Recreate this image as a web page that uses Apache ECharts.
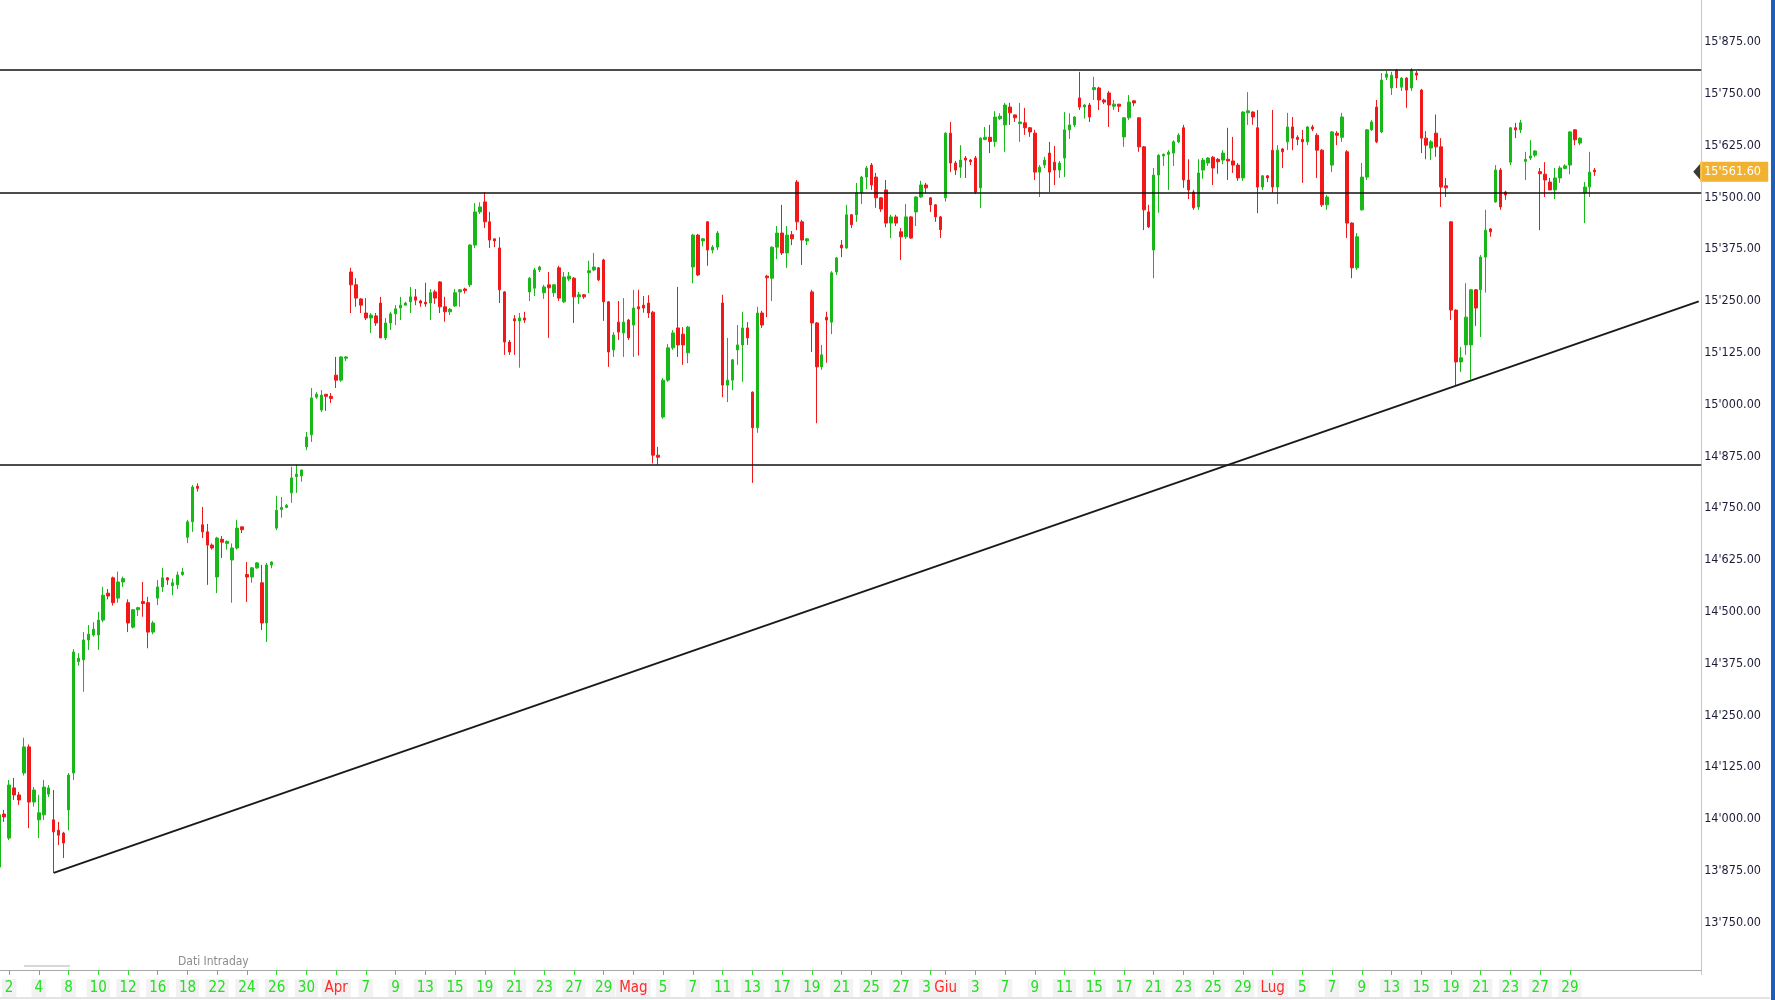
<!DOCTYPE html>
<html>
<head>
<meta charset="utf-8">
<script src="https://cdn.jsdelivr.net/npm/echarts@6/dist/echarts.min.js"></script>
<style>
html,body{margin:0;padding:0;background:#fff;}
#chart{width:1775px;height:1000px;}
</style>
</head>
<body>
<div id="chart"></div>
<script>
// ---- DATA ----
const tradingDays = [
 '03-01','03-02','03-03','03-04','03-05','03-08','03-09','03-10','03-11','03-12','03-15','03-16','03-17','03-18','03-19','03-22','03-23','03-24','03-25','03-26','03-29','03-30','03-31',
 '04-01','04-06','04-07','04-08','04-09','04-12','04-13','04-14','04-15','04-16','04-19','04-20','04-21','04-22','04-23','04-26','04-27','04-28','04-29','04-30',
 '05-03','05-04','05-05','05-06','05-07','05-10','05-11','05-12','05-13','05-14','05-17','05-18','05-19','05-20','05-21','05-24','05-25','05-26','05-27','05-28','05-31',
 '06-01','06-02','06-03','06-04','06-07','06-08','06-09','06-10','06-11','06-14','06-15','06-16','06-17','06-18','06-21','06-22','06-23','06-24','06-25','06-28','06-29','06-30',
 '07-01','07-02','07-05','07-06','07-07','07-08','07-09','07-12','07-13','07-14','07-15','07-16','07-19','07-20','07-21','07-22','07-23','07-26','07-27','07-28','07-29','07-30'
];
const sessionSlots = ['09:00', '12:00', '15:00'];
const futureSlots = 21;

// [open, close, low, high] per 3-hour bar
const candles = [
 [13884,14010,13877,14022],[14012,14005,13993,14022],
 [13954,14082,13949,14094],[14075,14058,14046,14099],[14058,14046,14034,14065],
 [14111,14174,14105,14196],[14174,14041,13978,14180],[14041,14070,14030,14077],
 [13998,14015,13954,14058],[14010,14077,13998,14094],[14060,14075,14053,14082],
 [13998,13969,13870,14070],[13973,13961,13937,13993],[13966,13942,13906,13969],
 [14022,14106,13973,14111],[14111,14403,14094,14410],[14380,14388,14370,14400],
 [14384,14432,14307,14451],[14432,14446,14408,14468],[14444,14458,14440,14475],
 [14444,14480,14408,14500],[14480,14540,14475,14560],[14545,14538,14530,14555],
 [14582,14522,14515,14585],[14533,14572,14522,14597],[14572,14580,14560,14585],
 [14522,14473,14451,14530],[14463,14505,14460,14507],[14505,14510,14490,14512],
 [14525,14520,14488,14572],[14522,14451,14412,14536],[14451,14473,14446,14478],
 [14533,14560,14516,14577],[14560,14582,14548,14606],[14582,14577,14565,14584],
 [14563,14570,14540,14580],[14565,14589,14555,14597],[14590,14596,14587,14606],
 [14680,14717,14666,14722],[14717,14801,14693,14806],[14803,14798,14790,14810],
 [14710,14693,14678,14753],[14693,14661,14565,14712],[14661,14654,14650,14665],
 [14584,14678,14545,14681],[14675,14668,14630,14683],[14665,14670,14650,14672],
 [14625,14654,14522,14665],[14654,14702,14650,14722],[14705,14698,14690,14705],
 [14590,14584,14524,14620],[14584,14606,14570,14608],[14606,14618,14604,14620],
 [14570,14473,14456,14613],[14473,14613,14427,14618],[14613,14620,14605,14622],
 [14702,14745,14697,14780],[14747,14752,14727,14777],[14752,14757,14750,14760],
 [14787,14823,14763,14850],[14826,14832,14787,14855],[14828,14842,14814,14843],
 [14898,14922,14890,14934],[14927,15016,14910,15040],[15018,15025,15014,15030],
 [14987,15023,14982,15035],[15025,15020,14985,15025],[15020,15015,15004,15028],
 [15071,15059,15040,15115],[15059,15115,15055,15117],[15112,15115,15105,15117],
 [15320,15289,15221,15330],[15289,15257,15236,15305],[15255,15240,15221,15257],
 [15221,15209,15204,15257],[15209,15216,15173,15221],[15214,15197,15190,15221],
 [15245,15161,15161,15260],[15161,15197,15156,15209],[15197,15219,15180,15224],
 [15219,15231,15192,15240],[15233,15240,15204,15260],[15240,15245,15240,15248],
 [15248,15260,15221,15284],[15260,15252,15240,15279],[15250,15245,15236,15253],
 [15247,15243,15236,15294],[15245,15270,15204,15279],[15272,15257,15243,15277],
 [15296,15236,15221,15298],[15236,15224,15200,15260],[15224,15230,15216,15233],
 [15238,15270,15236,15279],[15272,15277,15236,15279],[15279,15275,15268,15282],
 [15289,15385,15284,15387],[15385,15465,15378,15486],[15465,15477,15460,15488],
 [15489,15441,15426,15513],[15441,15397,15378,15465],[15400,15395,15380,15400],
 [15378,15277,15245,15404],[15272,15151,15120,15274],[15151,15127,15120,15156],
 [15207,15202,15120,15216],[15202,15209,15089,15221],[15209,15204,15197,15224],
 [15272,15305,15250,15308],[15281,15325,15262,15330],[15325,15332,15320,15335],
 [15270,15284,15255,15289],[15289,15282,15161,15320],[15270,15289,15260,15291],
 [15330,15257,15250,15335],[15248,15308,15245,15320],[15303,15310,15298,15320],
 [15305,15260,15197,15308],[15260,15265,15243,15272],[15265,15260,15255,15267],
 [15318,15323,15269,15347],[15325,15332,15322,15366],[15330,15301,15298,15332],
 [15349,15248,15202,15352],[15248,15127,15091,15250],[15132,15168,15115,15175],
 [15199,15175,15156,15250],[15173,15199,15115,15257],[15204,15161,15156,15207],
 [15192,15233,15115,15277],[15236,15231,15118,15277],[15240,15233,15222,15262],
 [15245,15221,15209,15264],[15223,14878,14858,15226],[14878,14873,14855,14898],
 [14970,15059,14966,15064],[15059,15137,15055,15146],[15137,15173,15132,15180],
 [15185,15144,15115,15284],[15170,15144,15096,15187],[15125,15187,15100,15190],
 [15332,15409,15293,15412],[15409,15313,15310,15412],[15395,15400,15382,15402],
 [15441,15373,15335,15443],[15373,15380,15365,15385],[15380,15414,15373,15419],
 [15245,15047,15018,15265],[15047,15059,15006,15161],[15059,15108,15035,15110],
 [15132,15144,15096,15192],[15144,15185,15055,15224],[15185,15161,15144,15199],
 [15030,14944,14811,15032],[14944,15221,14932,15236],[15221,15192,15185,15226],
 [15310,15306,15211,15313],[15305,15380,15250,15382],[15380,15414,15351,15431],
 [15414,15366,15361,15482],[15366,15409,15330,15431],[15410,15400,15385,15419],
 [15537,15441,15421,15542],[15441,15397,15337,15446],[15395,15400,15385,15402],
 [15272,15197,15127,15277],[15197,15091,14955,15199],[15091,15120,15084,15144],
 [15211,15204,15101,15224],[15199,15318,15170,15322],[15320,15354,15313,15356],
 [15385,15378,15356,15397],[15378,15458,15376,15482],[15458,15434,15426,15460],
 [15458,15511,15441,15535],[15511,15549,15484,15552],[15549,15571,15520,15576],
 [15578,15530,15518,15583],[15549,15499,15475,15559],[15499,15472,15465,15501],
 [15518,15438,15428,15542],[15438,15453,15402,15458],[15453,15438,15431,15458],
 [15417,15405,15349,15426],[15405,15453,15400,15484],[15453,15402,15400,15455],
 [15465,15501,15431,15503],[15501,15530,15499,15540],[15530,15523,15510,15535],
 [15499,15482,15465,15501],[15482,15453,15441,15484],[15453,15422,15402,15455],
 [15499,15655,15490,15657],[15655,15583,15561,15682],[15583,15566,15554,15588],
 [15573,15590,15547,15626],[15595,15590,15547,15600],[15590,15586,15578,15593],
 [15595,15513,15508,15600],[15523,15643,15474,15645],[15640,15645,15638,15670],
 [15645,15635,15607,15675],[15635,15694,15622,15708],[15690,15696,15687,15703],
 [15675,15723,15610,15728],[15718,15704,15675,15728],[15699,15692,15682,15700],
 [15678,15682,15634,15728],[15680,15668,15651,15716],[15668,15658,15646,15670],
 [15655,15561,15542,15663],[15561,15573,15501,15578],[15578,15590,15571,15598],
 [15607,15561,15513,15634],[15585,15566,15530,15624],[15566,15583,15547,15588],
 [15595,15663,15549,15706],[15663,15675,15641,15703],[15675,15694,15670,15696],
 [15740,15718,15711,15803],[15718,15723,15690,15725],[15723,15694,15682,15728],
 [15760,15765,15735,15791],[15764,15735,15711,15767],[15735,15730,15725,15738],
 [15752,15723,15670,15757],[15720,15725,15711,15735],[15725,15720,15706,15725],
 [15646,15692,15622,15694],[15692,15730,15687,15747],[15733,15728,15720,15735],
 [15692,15622,15610,15694],[15622,15470,15421,15624],[15465,15429,15426,15482],
 [15373,15554,15305,15571],[15554,15602,15463,15604],[15600,15604,15576,15606],
 [15604,15609,15518,15614],[15607,15634,15576,15638],[15634,15650,15631,15655],
 [15668,15542,15523,15675],[15542,15518,15496,15592],[15513,15475,15470,15518],
 [15477,15559,15470,15592],[15566,15590,15545,15595],[15583,15595,15576,15597],
 [15597,15571,15530,15600],[15592,15586,15557,15595],[15590,15607,15580,15614],
 [15592,15588,15542,15668],[15588,15578,15559,15646],[15578,15547,15540,15583],
 [15547,15706,15540,15708],[15704,15709,15675,15754],[15706,15694,15675,15708],
 [15668,15525,15462,15711],[15525,15552,15518,15554],[15552,15547,15537,15554],
 [15614,15525,15511,15711],[15525,15614,15484,15626],[15617,15610,15571,15619],
 [15634,15670,15614,15704],[15670,15643,15614,15694],[15645,15640,15626,15650],
 [15640,15634,15535,15663],[15634,15670,15626,15672],[15670,15665,15660,15675],
 [15650,15614,15547,15655],[15614,15482,15477,15617],[15482,15501,15470,15506],
 [15578,15658,15561,15660],[15655,15650,15626,15660],[15645,15694,15634,15704],
 [15610,15438,15402,15614],[15438,15330,15305,15440],[15330,15405,15325,15414],
 [15470,15549,15468,15583],[15549,15663,15542,15665],[15663,15682,15660,15687],
 [15718,15634,15631,15735],[15658,15783,15655,15800],[15790,15798,15783,15805],
 [15764,15795,15747,15803],[15807,15788,15764,15810],[15766,15788,15757,15790],
 [15788,15759,15716,15790],[15764,15807,15757,15812],[15800,15795,15783,15805],
 [15759,15643,15607,15762],[15643,15626,15592,15660],[15619,15634,15590,15638],
 [15655,15622,15598,15700],[15622,15525,15477,15643],[15528,15523,15501,15547],
 [15441,15228,15204,15443],[15228,15103,15047,15230],[15103,15113,15079,15139],
 [15144,15211,15120,15293],[15144,15277,15060,15279],[15277,15233,15190,15279],
 [15277,15356,15163,15361],[15356,15421,15270,15470],[15424,15417,15405,15426],
 [15489,15566,15487,15578],[15566,15477,15470,15571],[15513,15506,15494,15516],
 [15585,15668,15578,15670],[15668,15663,15643,15680],[15663,15680,15655,15687],
 [15587,15592,15542,15610],[15595,15600,15590,15638],[15602,15612,15597,15614],
 [15562,15557,15421,15571],[15556,15542,15501,15585],[15537,15518,15518,15547],
 [15518,15547,15496,15571],[15547,15571,15535,15576],[15570,15576,15568,15580],
 [15578,15658,15556,15660],[15663,15639,15626,15665],[15631,15643,15626,15645],
 [15511,15525,15438,15537],[15525,15561,15501,15610],[15566,15561.6,15552,15571]
];

// x-axis tick labels (day -> text)
const tickLabels = {
 '03-02':'2','03-04':'4','03-08':'8','03-10':'10','03-12':'12','03-16':'16','03-18':'18','03-22':'22','03-24':'24','03-26':'26','03-30':'30',
 '04-01':'Apr','04-07':'7','04-09':'9','04-13':'13','04-15':'15','04-19':'19','04-21':'21','04-23':'23','04-27':'27','04-29':'29',
 '05-03':'Mag','05-05':'5','05-07':'7','05-11':'11','05-13':'13','05-17':'17','05-19':'19','05-21':'21','05-25':'25','05-27':'27','05-31':'31',
 '06-01':'Giu','06-03':'3','06-07':'7','06-09':'9','06-11':'11','06-15':'15','06-17':'17','06-21':'21','06-23':'23','06-25':'25','06-29':'29',
 '07-01':'Lug','07-05':'5','07-07':'7','07-09':'9','07-13':'13','07-15':'15','07-19':'19','07-21':'21','07-23':'23','07-27':'27','07-29':'29'
};
const monthLabels = ['Apr', 'Mag', 'Giu', 'Lug'];

// y-axis scale (ticks every 125 counted from the minimum)
const yMin = 13625, yMax = 15976.35, yStep = 125;

// horizontal levels, trend line, last price
const levels = [15807, 15512, 14854];
const trendStart = [11, 13870];   // [bar index, value]
const trendEnd = [343, 15249];
const lastPrice = 15561.6;

// ---- BUILD ----
const categories = [];
tradingDays.forEach((d, i) => {
  sessionSlots.forEach((s, j) => {
    if (i === 0 && j === 0) return;
    categories.push(d + ' ' + s);
  });
});
for (let k = 1; k <= futureSlots; k++) categories.push('next-' + k);

function isTick(value) {
  if (typeof value !== 'string' || !value.endsWith(sessionSlots[0])) return false;
  return tickLabels[value.slice(0, 5)] !== undefined;
}
function fmtPrice(v, dec) {
  const fixed = Math.abs(v).toFixed(dec);
  const parts = fixed.split('.');
  const intPart = parts[0].replace(/\B(?=(\d{3})+(?!\d))/g, "'");
  return (v < 0 ? '-' : '') + intPart + '.' + parts[1];
}

const FONT = "'DejaVu Sans Condensed','Liberation Sans',sans-serif";
const GREEN = '#18b818';
const RED = '#f01818';
const GRID_LEFT = -3.3, GRID_TOP = 0, GRID_W = categories.length * 4.955, GRID_H = 974.4;

const chart = echarts.init(document.getElementById('chart'), null, {renderer: 'canvas'});
chart.setOption({
  animation: false,
  backgroundColor: '#ffffff',
  grid: {left: GRID_LEFT, top: GRID_TOP, width: GRID_W, height: GRID_H,
         containLabel: false, outerBoundsMode: 'none'},
  xAxis: {
    type: 'category',
    data: categories,
    boundaryGap: true,
    offset: -4.4,
    axisLine: {show: true, lineStyle: {color: '#a8a8a8', width: 1}},
    axisTick: {show: true, interval: (i, v) => isTick(v), alignWithLabel: true, length: 5,
      lineStyle: {color: '#33dd33', width: 1}},
    axisLabel: {
      show: true,
      interval: (i, v) => isTick(v),
      formatter: v => tickLabels[v.slice(0, 5)] || '',
      color: v => monthLabels.indexOf(tickLabels[v.slice(0, 5)]) >= 0 ? '#ff2a2a' : '#22e022',
      fontFamily: FONT,
      fontSize: 15,
      backgroundColor: '#f2f2f2',
      padding: [2, 3, 1, 3],
      margin: 9
    },
    splitLine: {show: false}
  },
  yAxis: {
    type: 'value',
    position: 'right',
    min: yMin, max: yMax, interval: yStep,
    axisLine: {show: true, lineStyle: {color: '#c8c8c8', width: 1}},
    axisTick: {show: false},
    splitLine: {show: false},
    axisLabel: {
      showMinLabel: false, showMaxLabel: false,
      formatter: v => fmtPrice(v, 2),
      color: '#1d1d3a', fontFamily: FONT, fontSize: 12.5, margin: 3, align: 'left'
    }
  },
  series: [{
    type: 'candlestick',
    data: candles,
    barWidth: 3,
    itemStyle: {color: GREEN, color0: RED, borderColor: GREEN, borderColor0: RED, borderWidth: 1},
    markLine: {
      silent: true,
      animation: false,
      symbol: ['none', 'none'],
      label: {show: false},
      lineStyle: {color: '#111', width: 1.6, type: 'solid'},
      data: [
        ...levels.map(v => ({yAxis: v})),
        [{coord: trendStart}, {coord: trendEnd, lineStyle: {width: 2, color: '#1a1a1a'}}]
      ]
    }
  }]
});

// last-price tag on the right axis, positioned through the value axis
const py = chart.convertToPixel({yAxisIndex: 0}, lastPrice);
const gx = GRID_LEFT + GRID_W;
chart.setOption({
  graphic: [
    {type: 'rect', right: 0, top: 0, shape: {width: 4, height: 1000}, style: {fill: '#1f5fb8'}, silent: true},
    {type: 'polygon', shape: {points: [[gx - 8, py], [gx - 1, py - 8], [gx - 1, py + 8]]}, style: {fill: '#3a3a3a'}, silent: true},
    {type: 'rect', shape: {x: gx - 1, y: py - 10, width: 68, height: 20}, style: {fill: '#f1b232'}, silent: true},
    {type: 'text', x: gx + 3, y: py, style: {text: fmtPrice(lastPrice, 2), fill: '#ffffff', font: '12.5px ' + FONT, verticalAlign: 'middle'}, silent: true},
    {type: 'text', left: 178, top: 956, style: {text: 'Dati Intraday', fill: '#8c8c8c', font: '12px ' + FONT}, silent: true},
    {type: 'line', shape: {x1: 24, y1: 966, x2: 70, y2: 966}, style: {stroke: '#b0b0b0', lineWidth: 1}, silent: true},
    {type: 'line', shape: {x1: 0, y1: 998, x2: 1770, y2: 998}, style: {stroke: '#c8c8c8', lineWidth: 1}, silent: true}
  ]
});
</script>
</body>
</html>
